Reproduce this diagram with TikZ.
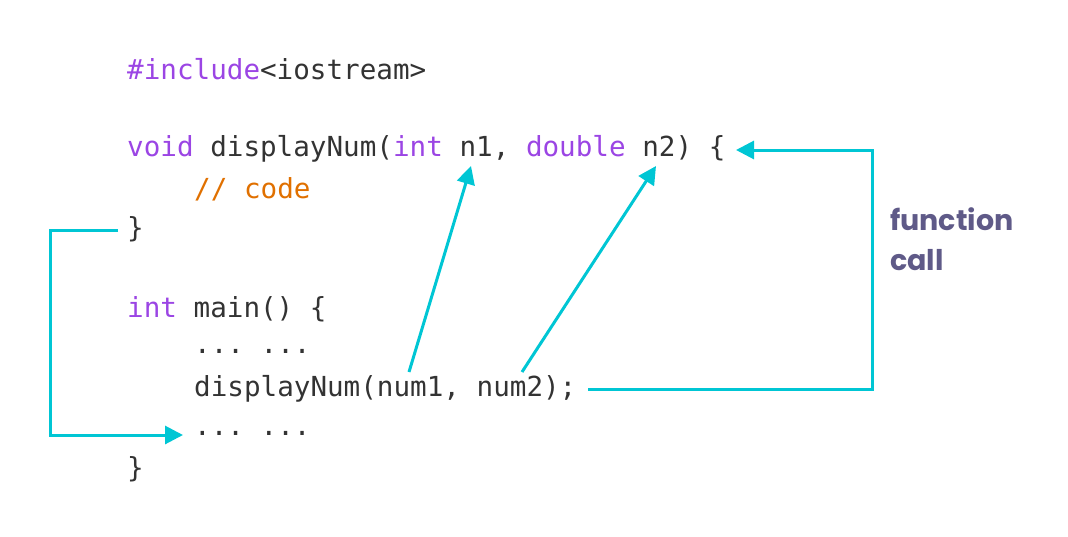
\documentclass[tikz,border=0pt]{standalone}
\usepackage{fontspec}
\setmonofont{DejaVu Sans Mono}
\newfontfamily\labfont{Poppins}
\usetikzlibrary{arrows.meta}
\definecolor{kw}{HTML}{9B45E4}
\definecolor{cm}{HTML}{E07000}
\definecolor{tx}{HTML}{333333}
\definecolor{ar}{HTML}{00C6D4}
\definecolor{lb}{HTML}{5F5A88}
\tikzset{code/.style={anchor=west,inner sep=0pt,font=\ttfamily\fontsize{27.6}{30}\selectfont,text=tx},
 conn/.style={draw=ar,line width=3pt,-{Triangle[length=18pt,width=18pt]}},
 plain/.style={draw=ar,line width=3pt}}
\begin{document}
\begin{tikzpicture}[x=1pt,y=-1pt]
\useasboundingbox (0,0) rectangle (1068,536);
\node[code] (l1) at (127,69) {\textcolor{kw}{\#include}<iostream>};
\node[code] (l2) at (127,149) {\textcolor{kw}{void} displayNum(\textcolor{kw}{int} n1, \textcolor{kw}{double} n2) \{};
\node[code] (l3) at (194,189) {\textcolor{cm}{// code}};
\node[code] (l4) at (127,229) {\}};
\node[code] (l5) at (127,309) {\textcolor{kw}{int} main() \{};
\node[code] (l6) at (194,351) {... ...};
\node[code] (l7) at (194,389) {displayNum(num1, num2);};
\node[code] (l8) at (194,433) {... ...};
\node[code] (l9) at (127,469) {\}};
\node[anchor=west,inner sep=0pt,align=left,text=lb,font=\labfont\bfseries\fontsize{28.5}{40}\selectfont] (fc) at (890,239) {function\\call};
\coordinate (a1s) at (409,372); \coordinate (a1e) at (471,166);
\coordinate (a2s) at (522,372); \coordinate (a2e) at (656,166);
\coordinate (rs) at (588,389); \coordinate (re) at (736,150);
\coordinate (ls) at (118,230); \coordinate (le) at (183,435);
\draw[conn] (a1s) -- (a1e);
\draw[conn] (a2s) -- (a2e);
\draw[conn] (rs) -- (872,389) -- (872,150) -- (re);
\draw[conn] (ls) -- (50,230) -- (50,435) -- (le);
\end{tikzpicture}
\end{document}
